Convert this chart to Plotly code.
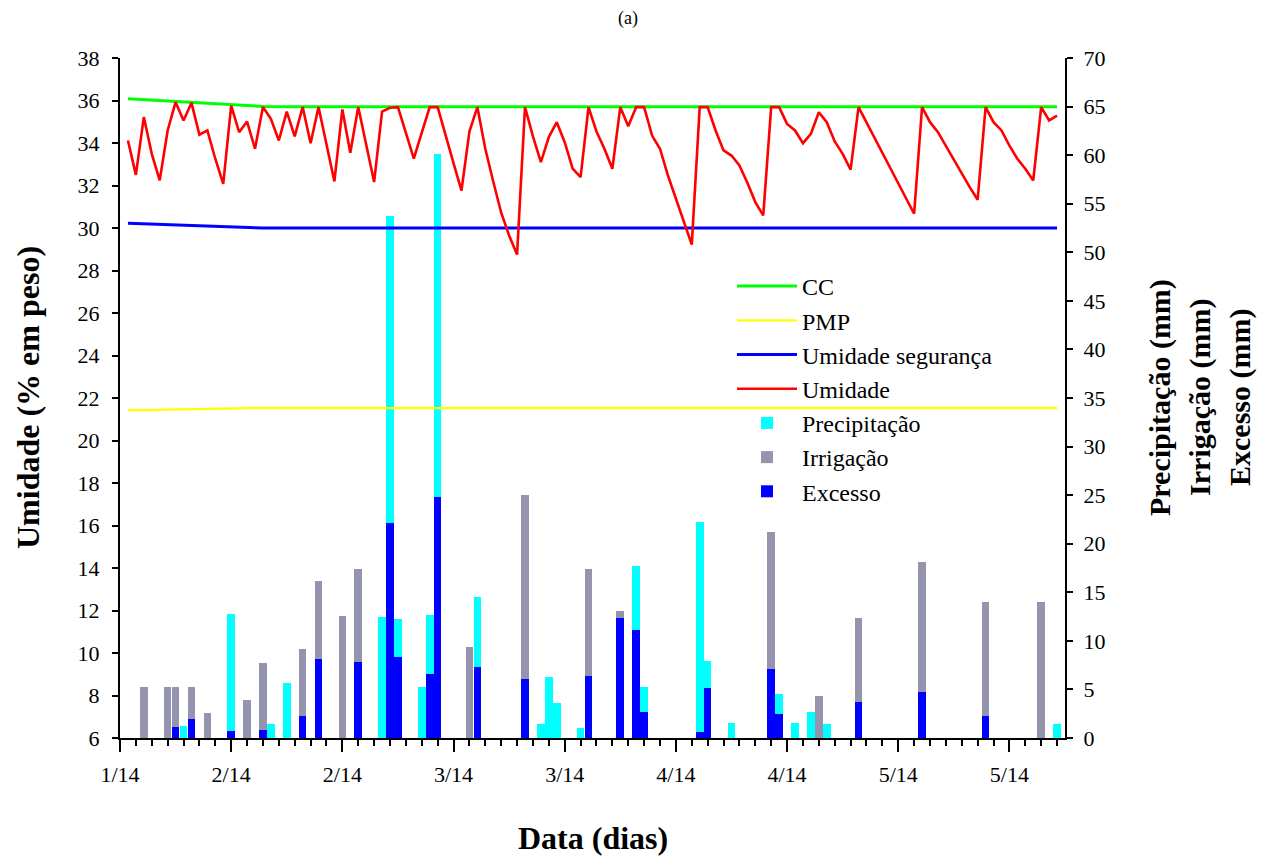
import plotly.graph_objects as go

# ---------------- data ----------------
tick_days = [0, 14, 28, 42, 56, 70, 84, 98, 112]
tick_labels = ["1/14", "2/14", "2/14", "3/14", "3/14", "4/14", "4/14", "5/14", "5/14"]

days = list(range(1, 119))
umidade = [34.12, 32.50, 35.22, 33.49, 32.24, 34.59, 35.92, 35.06, 35.89, 34.39,
           34.59, 33.26, 32.08, 35.76, 34.51, 35.01, 33.73, 35.69, 35.14, 34.12,
           35.48, 34.31, 35.69, 33.99, 35.69, 33.98, 32.19, 35.58, 33.54, 35.69,
           33.96, 32.16, 35.48, 35.66, 35.69, 34.48, 33.26, 34.49, 35.69, 35.69,
           34.43, 33.05, 31.76, 34.54, 35.69, 33.73, 32.19, 30.72, 29.65, 28.75,
           35.69, 34.31, 33.10, 34.28, 34.98, 34.04, 32.79, 32.39, 35.69, 34.54,
           33.73, 32.79, 35.69, 34.79, 35.69, 35.69, 34.35, 33.73, 32.47, 31.37,
           30.28, 29.22, 35.69, 35.69, 34.59, 33.65, 33.41, 32.94, 32.13, 31.22,
           30.59, 35.69, 35.69, 34.90, 34.59, 33.99, 34.43, 35.45, 34.98, 34.07,
           33.49, 32.75, 35.69, 34.97, 34.23, 33.52, 32.80, 32.08, 31.36, 30.67,
           35.69, 34.98, 34.51, 33.85, 33.21, 32.56, 31.92, 31.33, 35.69, 34.98,
           34.59, 33.88, 33.26, 32.79, 32.24, 35.69, 35.06, 35.29]

cc_days = [1, 7, 14, 18, 21, 118]
cc_vals = [36.08, 35.95, 35.80, 35.72, 35.70, 35.70]

pmp_days = [1, 16, 118]
pmp_vals = [21.42, 21.52, 21.52]

seg_days = [1, 7, 14, 18, 118]
seg_vals = [30.22, 30.15, 30.05, 30.00, 30.00]

precip_days = [8, 14, 19, 21, 33, 34, 35, 38, 39, 40, 45, 53, 54, 55, 58, 65, 66,
               73, 74, 77, 83, 85, 87, 89, 118]
precip = [1.24, 12.77, 1.44, 5.63, 12.46, 53.7, 12.25, 5.25, 12.63, 60.1, 14.55,
          1.41, 6.31, 3.57, 1.03, 17.71, 5.25, 22.2, 7.89, 1.58, 4.56, 1.58, 2.64,
          1.44, 1.44]

irrig_days = [3, 6, 7, 9, 11, 16, 18, 23, 25, 28, 30, 44, 51, 59, 63, 82, 88, 93,
              101, 109, 116]
irrig = [5.2, 5.2, 5.2, 5.2, 2.54, 3.91, 7.69, 9.16, 16.13, 12.59, 17.43, 9.37,
         25.05, 17.43, 13.07, 21.24, 4.32, 12.35, 18.08, 13.97, 13.97]

excess_days = [7, 9, 14, 18, 23, 25, 30, 34, 35, 39, 40, 45, 51, 59, 63, 65, 66,
               73, 74, 82, 83, 93, 101, 109]
excess = [1.10, 1.99, 0.76, 0.82, 2.26, 8.13, 7.86, 22.13, 8.34, 6.59, 24.8, 7.27,
          6.07, 6.42, 12.39, 11.08, 2.71, 0.65, 5.15, 7.14, 2.43, 3.71, 4.77, 2.23]

# ---------------- figure ----------------
FONT = "Liberation Serif, Times New Roman, serif"
W, H = 1259, 850          # page body adds an 8 px offset
L, R, T, B = 112, 202, 50, 120
PW, PH = W - L - R, H - T - B

fig = go.Figure()

# lines on the left (overlaying) axis so they are drawn above the bars
fig.add_trace(go.Scatter(x=cc_days, y=cc_vals, mode="lines", name="CC",
                         line=dict(color="#00FF00", width=3), yaxis="y2"))
fig.add_trace(go.Scatter(x=pmp_days, y=pmp_vals, mode="lines", name="PMP",
                         line=dict(color="#FFFF00", width=2.2), yaxis="y2"))
fig.add_trace(go.Scatter(x=seg_days, y=seg_vals, mode="lines", name="Umidade segurança",
                         line=dict(color="#0000FF", width=3), yaxis="y2"))
fig.add_trace(go.Scatter(x=days, y=umidade, mode="lines", name="Umidade",
                         line=dict(color="#FF0000", width=2.6), yaxis="y2"))

bar_w = 0.96
fig.add_trace(go.Bar(x=precip_days, y=precip, name="Precipitação", width=bar_w,
                     marker=dict(color="#00FFFF", line=dict(width=0)), yaxis="y"))
fig.add_trace(go.Bar(x=irrig_days, y=irrig, name="Irrigação", width=bar_w,
                     marker=dict(color="#9494AE", line=dict(width=0)), yaxis="y"))
fig.add_trace(go.Bar(x=excess_days, y=excess, name="Excesso", width=bar_w,
                     marker=dict(color="#0000FF", line=dict(width=0)), yaxis="y"))

axis_common = dict(showgrid=False, zeroline=False, showline=True, linecolor="black",
                   linewidth=2, ticks="outside", tickcolor="black", tickwidth=2,
                   tickfont=dict(family=FONT, size=22, color="black"))

fig.update_layout(
    width=W, height=H,
    margin=dict(l=L, r=R, t=T, b=B, pad=0),
    paper_bgcolor="white", plot_bgcolor="white",
    barmode="overlay", bargap=0,
    font=dict(family=FONT, color="black"),
    title=dict(text="(a)", x=620 / W, xanchor="center", xref="container",
               y=1 - 10 / H, yanchor="middle", font=dict(family=FONT, size=18, color="black")),
    xaxis=dict(range=[0, 119], tickmode="array", tickvals=tick_days, ticktext=tick_labels,
               ticklen=12, ticklabelstandoff=4,
               minor=dict(tickmode="linear", tick0=0, dtick=2, ticks="outside",
                          ticklen=6, tickcolor="black", tickwidth=2),
               **axis_common),
    yaxis=dict(range=[0, 70], side="right", tickmode="linear", tick0=0, dtick=5,
               ticklen=6, ticklabelstandoff=6, **axis_common),
    yaxis2=dict(range=[6, 38], side="left", overlaying="y", tickmode="linear", tick0=6,
                dtick=2, ticklen=6, ticklabelstandoff=8, **axis_common),
    legend=dict(x=(724 - L) / PW, xanchor="left", y=(T + PH - 256) / PH, yanchor="top",
                bgcolor="rgba(0,0,0,0)", borderwidth=0,
                font=dict(family=FONT, size=24, color="black"),
                traceorder="normal", itemwidth=60, tracegroupgap=0),
    showlegend=True,
)

title_font = dict(family=FONT, size=32, color="black")
right_font = dict(family=FONT, size=30, color="black")
annos = [
    dict(text="<b>Umidade (% em peso)</b>", x=0, xref="paper", xshift=-92, xanchor="center",
         y=0.5, yref="paper", yanchor="middle", textangle=-90, showarrow=False, font=title_font),
    dict(text="<b>Data (dias)</b>", x=0.5, xref="paper", y=0, yref="paper", yshift=-100,
         xanchor="center", yanchor="middle", showarrow=False, font=title_font),
    dict(text="<b>Precipitação (mm)</b>", x=1, xref="paper", xshift=95, xanchor="center",
         y=0.5, yref="paper", yanchor="middle", textangle=-90, showarrow=False, font=right_font),
    dict(text="<b>Irrigação (mm)</b>", x=1, xref="paper", xshift=135, xanchor="center",
         y=0.5, yref="paper", yanchor="middle", textangle=-90, showarrow=False, font=right_font),
    dict(text="<b>Excesso (mm)</b>", x=1, xref="paper", xshift=175, xanchor="center",
         y=0.5, yref="paper", yanchor="middle", textangle=-90, showarrow=False, font=right_font),
]
fig.update_layout(annotations=annos)

fig.write_html("out.html")
